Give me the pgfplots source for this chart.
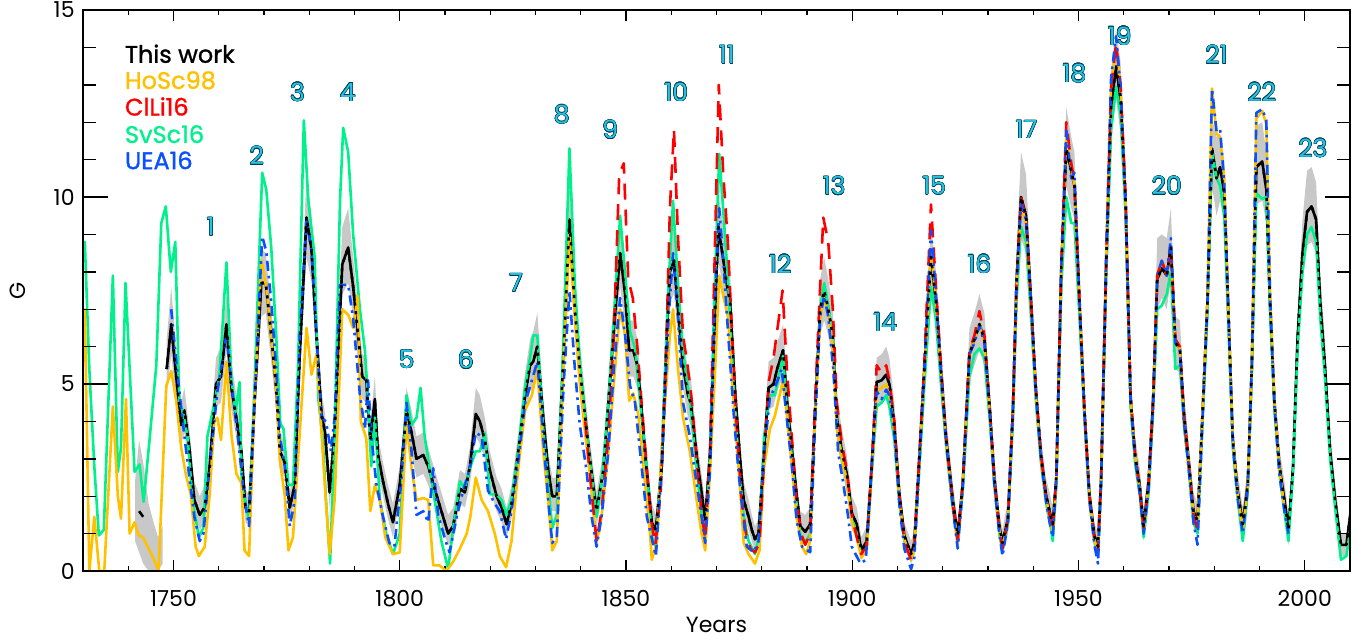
\documentclass[border=0pt]{standalone}
\usepackage{pgfplots}
\pgfplotsset{compat=1.18}
\usepackage{pgfplotstable}
\usepgfplotslibrary{fillbetween}
\usepackage{fontspec}
\setmainfont{Poppins}
\usepackage{contour}
\contourlength{0.22pt}

\definecolor{hosc}{RGB}{255,192,0}
\definecolor{clli}{RGB}{255,0,0}
\definecolor{svsc}{RGB}{0,240,140}
\definecolor{uea}{RGB}{10,80,255}
\definecolor{band}{RGB}{200,200,200}
\definecolor{cycfill}{RGB}{40,195,225}
\definecolor{cycline}{RGB}{0,60,85}

% This work: year, G, lower and upper bound
\pgfplotstableread{
x tw lo hi
1748.5 5.4 4.7 6.2
1749.5 6.6 5.8 7.6
1750.6 5.2 4.5 5.9
1751.7 3.9 3.4 4.5
1752.4 4.3 3.7 4.9
1753.5 3.3 2.8 3.8
1754.6 1.9 1.5 2.4
1755.8 1.5 1.1 2.0
1756.9 1.7 1.3 2.3
1758.0 2.8 2.3 3.4
1759.4 5.0 4.4 5.7
1760.5 5.2 4.5 6.0
1761.7 6.6 5.9 7.4
1762.8 4.9 4.3 5.6
1764.0 4.0 3.5 4.6
1765.0 3.2 2.7 3.7
1765.9 1.7 1.3 2.2
1766.7 1.6 1.2 2.0
1767.9 4.5 3.9 5.1
1769.4 7.7 6.8 8.6
1770.4 7.7 6.9 8.5
1771.6 6.3 5.6 7.0
1772.7 4.9 4.3 5.5
1773.5 3.2 2.7 3.7
1774.6 2.9 2.5 3.4
1775.7 1.7 1.3 2.1
1776.8 2.3 1.9 2.8
1777.9 5.8 5.1 6.5
1779.4 9.45 8.4 10.6
1780.5 8.6 7.7 9.5
1781.6 6.3 5.6 7.0
1782.7 4.2 3.7 4.8
1783.5 3.7 3.2 4.2
1784.5 2.1 1.7 2.6
1785.6 3.7 3.2 4.3
1787.3 8.2 7.4 9.2
1788.6 8.65 7.7 9.7
1789.7 7.6 6.8 8.4
1790.8 6.3 5.6 7.0
1791.7 5.2 4.6 5.8
1792.6 5.1 4.5 5.7
1793.5 3.5 3.0 4.0
1794.5 4.6 4.0 5.2
1795.2 3.1 2.6 3.6
1796.3 2.4 2.0 2.9
1797.4 1.8 1.4 2.3
1798.5 1.3 0.9 1.8
1800.0 2.3 1.9 2.8
1801.5 4.3 3.7 4.9
1802.6 3.7 3.1 4.3
1803.7 3.0 2.5 3.6
1805.2 3.1 2.6 3.7
1806.3 2.8 2.3 3.3
1807.7 2.2 1.8 2.7
1809.2 1.6 1.2 2.1
1810.7 1.0 0.7 1.5
1811.8 1.2 0.8 1.7
1813.3 2.2 1.8 2.7
1814.4 2.1 1.7 2.6
1815.5 2.8 2.3 3.3
1816.8 4.2 3.6 4.9
1817.7 4.0 3.4 4.7
1818.8 3.5 3.0 4.1
1819.9 2.7 2.2 3.2
1821.4 2.0 1.6 2.5
1822.5 1.7 1.3 2.2
1823.6 1.25 0.9 1.7
1824.7 1.8 1.4 2.3
1826.2 3.2 2.7 3.7
1827.7 4.7 4.1 5.3
1828.8 5.5 4.8 6.2
1829.5 5.6 4.9 6.4
1830.4 6.0 5.3 6.9
1831.7 4.1 3.5 4.7
1832.8 2.7 2.2 3.2
1833.7 2.0 1.6 2.5
1834.7 2.0 1.6 2.5
1836.2 5.8 5.1 6.6
1837.5 9.4 8.5 10.3
1838.7 7.0 6.3 7.8
1839.8 5.4 4.8 6.1
1841.0 4.1 3.6 4.7
1842.0 3.0 2.5 3.5
1843.5 1.6 1.2 2.1
1845.0 2.7 2.2 3.2
1846.1 4.5 3.9 5.1
1847.2 6.3 5.6 7.1
1848.7 8.5 7.6 9.5
1849.8 7.4 6.6 8.3
1850.7 5.9 5.2 6.7
1851.6 5.9 5.2 6.7
1852.5 5.5 4.9 6.2
1853.1 4.8 4.2 5.4
1854.4 2.9 2.4 3.4
1855.7 1.3 0.9 1.8
1856.6 1.1 0.7 1.5
1857.9 2.8 2.3 3.3
1859.0 6.3 5.6 7.0
1859.7 8.0 7.2 8.9
1860.6 8.3 7.4 9.2
1861.5 7.0 6.3 7.8
1862.6 5.5 4.9 6.2
1863.7 4.7 4.1 5.4
1864.3 4.5 3.9 5.2
1865.6 3.1 2.6 3.6
1866.7 2.1 1.7 2.6
1867.5 1.35 1.0 1.8
1868.6 3.2 2.7 3.7
1869.5 6.3 5.6 7.0
1870.4 9.2 8.3 10.1
1871.4 8.4 7.6 9.3
1872.3 7.65 6.9 8.5
1873.0 7.2 6.5 8.0
1874.1 4.8 4.2 5.4
1875.2 3.0 2.5 3.5
1876.0 1.9 1.5 2.4
1877.1 1.45 1.1 1.9
1877.8 1.1 0.8 1.5
1878.5 0.85 0.5 1.2
1879.3 1.0 0.7 1.4
1880.5 3.2 2.7 3.7
1881.5 4.9 4.3 5.6
1882.6 5.0 4.4 5.7
1883.4 5.4 4.8 6.1
1884.7 5.9 5.2 6.6
1885.6 4.5 3.9 5.1
1886.7 3.2 2.7 3.7
1887.6 2.15 1.7 2.6
1888.5 1.2 0.8 1.6
1889.6 1.05 0.7 1.5
1890.7 1.25 0.9 1.7
1891.8 4.3 3.7 4.9
1892.9 7.0 6.3 7.8
1893.8 7.5 6.7 8.4
1894.7 7.0 6.3 7.8
1895.7 6.3 5.6 7.0
1896.6 4.1 3.5 4.7
1897.7 3.2 2.7 3.8
1898.8 2.6 2.1 3.1
1899.9 1.55 1.1 2.0
1901.0 1.25 0.9 1.7
1902.0 0.55 0.3 0.9
1903.2 0.8 0.5 1.2
1904.3 2.8 2.3 3.3
1905.4 5.05 4.4 5.7
1906.5 5.1 4.5 5.8
1907.5 5.25 4.6 6.0
1908.2 5.0 4.4 5.7
1909.3 3.9 3.4 4.5
1910.4 2.05 1.6 2.5
1911.5 0.95 0.6 1.3
1913.0 0.45 0.2 0.8
1913.7 0.75 0.4 1.1
1914.8 3.0 2.5 3.5
1915.9 5.35 4.7 6.0
1917.4 8.4 7.5 9.3
1918.5 7.2 6.5 8.0
1919.6 5.35 4.7 6.0
1920.7 3.6 3.1 4.2
1922.2 1.9 1.5 2.4
1923.3 0.95 0.6 1.3
1924.4 2.3 1.9 2.8
1925.9 5.8 5.1 6.5
1927.0 6.2 5.5 6.9
1928.1 6.6 5.9 7.4
1929.2 6.2 5.5 6.9
1930.4 4.3 3.7 4.9
1931.4 2.5 2.0 3.0
1932.5 1.2 0.8 1.6
1933.2 0.75 0.4 1.1
1934.4 1.4 1.0 1.9
1935.5 4.3 3.7 4.9
1936.3 7.7 6.9 8.6
1937.3 10.0 8.9 11.2
1938.4 9.5 8.5 10.6
1939.5 7.2 6.5 8.0
1940.6 4.8 4.2 5.4
1941.7 3.1 2.6 3.6
1942.8 2.05 1.6 2.5
1943.6 1.6 1.2 2.1
1944.3 1.25 0.9 1.7
1945.1 2.5 2.0 3.0
1946.2 8.1 7.3 9.0
1947.3 11.3 10.3 12.4
1948.4 10.7 9.7 11.6
1949.1 10.3 9.4 11.2
1950.2 7.2 6.5 8.0
1951.3 4.3 3.7 4.9
1952.4 2.05 1.6 2.5
1953.5 0.95 0.6 1.3
1954.3 0.65 0.3 1.0
1955.0 2.5 2.0 3.0
1956.1 8.1 7.3 9.0
1957.2 12.4 11.5 13.4
1958.3 13.5 12.6 14.5
1959.3 12.6 11.7 13.6
1960.4 9.9 9.0 10.8
1961.5 4.6 4.0 5.2
1962.5 3.1 2.6 3.6
1963.5 2.3 1.9 2.8
1964.4 1.2 0.8 1.6
1965.5 2.4 2.0 2.9
1966.5 4.6 4.0 5.2
1967.4 7.8 7.0 8.9
1968.4 8.1 7.3 9.0
1969.5 7.9 7.0 8.9
1970.4 8.65 7.8 9.7
1971.4 6.1 5.4 6.8
1972.4 5.95 5.3 6.7
1973.3 4.2 3.6 4.8
1974.3 3.0 2.5 3.5
1975.4 1.6 1.2 2.1
1976.3 1.35 1.0 1.8
1977.4 4.2 3.6 4.8
1978.5 7.2 6.5 8.0
1979.5 11.3 10.3 12.1
1980.5 10.5 9.5 11.6
1981.3 10.8 9.9 11.7
1982.2 10.1 9.3 11.0
1983.1 7.0 6.3 7.8
1984.1 3.5 3.0 4.0
1985.1 2.2 1.8 2.7
1986.3 1.25 0.9 1.7
1987.4 2.3 1.9 2.8
1988.3 5.5 4.9 6.2
1989.3 10.8 9.8 11.9
1990.6 10.95 9.9 12.0
1991.5 10.2 9.3 11.2
1992.3 7.2 6.5 8.0
1993.3 4.5 3.9 5.1
1994.4 2.8 2.3 3.3
1995.5 1.9 1.5 2.4
1996.4 1.1 0.7 1.5
1997.4 2.75 2.3 3.3
1998.4 6.2 5.5 6.9
1999.5 8.5 7.7 9.4
2000.5 9.6 8.7 10.7
2001.5 9.75 8.8 10.8
2002.5 9.4 8.5 10.4
2003.4 7.2 6.5 8.0
2004.5 5.4 4.8 6.1
2005.6 3.2 2.7 3.7
2006.7 1.9 1.5 2.4
2008.0 0.7 0.4 1.0
2009.2 0.7 0.4 1.0
2010.3 1.7 1.3 2.2
}\tw

\pgfplotstableread{
x tw lo hi
1741.5 nan 0.8 2.4
1742.4 1.6 0.5 3.5
1743.3 1.45 0.2 2.9
1744.5 nan 0.0 1.8
1745.6 nan 0.0 1.3
1746.6 nan 0.0 0.9
1747.6 nan 0.2 1.2
}\twearly

\pgfplotstableread{
x y
1729.6 4.6
1730.4 7.0
1731.4 0.0
1732.5 1.45
1733.6 0.0
1734.7 0.0
1736.6 4.4
1737.7 2.0
1738.4 1.4
1739.5 4.6
1740.3 1.0
1741.4 1.3
1742.3 0.95
1743.3 0.9
1744.7 0.55
1745.7 0.3
1746.7 0.0
1748.4 4.95
1749.5 5.35
1750.6 4.55
1751.7 3.3
1752.7 2.6
1753.8 2.05
1754.9 0.65
1755.6 0.4
1756.9 0.65
1758.0 2.05
1759.0 4.0
1759.7 4.1
1760.5 3.5
1761.7 5.6
1762.8 3.65
1763.9 2.6
1765.0 2.35
1765.7 0.55
1766.7 0.4
1767.9 4.55
1769.4 8.3
1770.5 7.6
1771.6 6.3
1772.7 4.9
1773.5 2.95
1774.6 2.0
1775.4 0.55
1776.4 0.9
1777.9 3.7
1779.4 6.5
1780.5 5.25
1781.6 5.8
1782.7 3.7
1783.6 2.0
1784.5 0.45
1785.6 1.9
1787.3 7.0
1788.6 6.85
1789.7 6.5
1790.7 7.35
1791.4 4.0
1792.6 3.55
1793.5 1.6
1794.5 2.3
1795.6 1.9
1796.8 0.9
1798.5 0.45
1800.0 0.5
1801.5 3.95
1802.6 2.75
1803.7 1.9
1805.2 1.95
1806.3 1.9
1807.4 0.15
1808.8 0.15
1810.3 0.0
1811.8 0.25
1813.3 0.6
1814.8 1.0
1815.6 1.45
1816.8 2.5
1818.1 1.9
1819.5 1.6
1821.0 1.0
1822.1 0.4
1823.5 0.1
1824.7 0.8
1826.2 2.75
1827.7 4.3
1829.2 4.7
1830.4 5.4
1831.7 3.2
1832.8 1.9
1833.7 0.55
1834.7 0.8
1836.2 5.4
1837.5 9.0
1838.7 6.75
1839.8 5.0
1841.0 3.65
1842.0 2.6
1843.5 0.75
1844.6 1.45
1846.1 3.2
1847.3 5.0
1848.7 7.0
1849.8 6.3
1850.7 4.55
1851.6 4.75
1852.7 4.2
1854.2 2.35
1855.3 1.0
1855.7 0.3
1856.8 0.75
1858.1 3.65
1859.7 6.3
1860.4 7.0
1861.5 5.4
1862.6 4.1
1864.1 3.2
1865.6 1.9
1866.7 1.0
1867.5 0.55
1868.6 2.75
1869.7 5.4
1870.6 7.9
1871.5 7.35
1872.6 6.75
1873.8 4.5
1874.9 2.75
1876.0 0.75
1877.1 0.45
1878.5 0.2
1879.5 0.55
1880.5 2.75
1881.8 3.8
1882.9 4.15
1884.7 5.1
1885.6 4.1
1886.7 2.75
1887.7 1.45
1888.9 0.65
1889.8 0.45
1890.7 0.8
1891.8 4.2
1892.9 6.8
1893.8 7.3
1894.7 6.9
1895.7 6.0
1896.6 3.8
1897.7 3.0
1898.8 2.4
1899.9 1.3
1901.0 0.9
1902.0 0.35
1903.2 0.6
1904.3 2.7
1905.4 4.8
1906.5 4.9
1907.5 5.0
1908.2 4.8
1909.3 3.8
1910.4 1.9
1911.5 0.85
1913.0 0.3
1913.7 0.55
1914.8 2.9
1915.9 5.3
1917.4 8.6
1918.5 7.3
1919.6 5.3
1920.7 3.5
1922.2 1.8
1923.3 0.7
1924.4 2.3
1925.9 5.8
1927.0 6.2
1928.1 6.6
1929.2 6.1
1930.4 4.2
1931.4 2.4
1932.5 1.1
1933.2 0.6
1934.4 1.35
1935.5 4.3
1936.3 7.6
1937.3 9.8
1938.4 9.3
1939.5 7.1
1940.6 4.7
1941.7 3.0
1942.8 1.95
1943.6 1.5
1944.3 1.05
1945.1 2.4
1946.2 8.1
1947.3 11.6
1948.4 10.8
1949.1 10.3
1950.2 7.2
1951.3 4.3
1952.4 2.0
1953.5 0.85
1954.3 0.5
1955.0 2.45
1956.1 8.3
1957.2 13.0
1958.3 14.0
1959.3 12.9
1960.4 9.9
1961.5 4.6
1962.5 3.1
1963.5 2.2
1964.4 1.1
1965.5 2.3
1966.5 4.6
1967.4 7.9
1968.4 8.3
1969.5 7.9
1970.4 8.65
1971.4 6.1
1972.4 5.95
1973.3 4.1
1974.3 2.95
1975.4 1.5
1976.3 1.2
1977.4 4.2
1978.5 7.3
1979.5 12.9
1980.5 11.7
1981.3 11.6
1982.2 10.5
1983.1 7.0
1984.1 3.5
1985.1 2.1
1986.3 1.1
1987.4 2.2
1988.3 5.5
1989.3 12.1
1990.6 12.3
1991.5 11.95
1992.3 7.6
1993.3 4.5
1994.4 2.7
1995.5 1.7
}\hosc

\pgfplotstableread{
x y
1841.0 4.0
1842.0 2.6
1843.5 0.8
1844.6 1.6
1846.1 3.6
1847.3 6.3
1848.5 10.6
1849.5 10.9
1850.5 7.8
1851.5 7.3
1852.5 6.0
1853.5 4.4
1854.5 2.9
1855.5 1.4
1856.5 0.7
1857.7 2.2
1858.8 5.5
1859.7 9.7
1860.6 11.8
1861.5 8.9
1862.6 6.3
1863.6 5.5
1864.5 4.6
1865.6 3.0
1866.7 1.6
1867.5 0.85
1868.6 3.3
1869.5 7.9
1870.5 13.0
1871.5 10.6
1872.5 8.8
1873.5 6.2
1874.5 3.8
1875.5 2.0
1876.5 1.0
1877.5 0.6
1878.5 0.5
1879.5 0.75
1880.5 3.0
1881.6 5.1
1882.6 5.7
1883.6 6.6
1884.6 7.5
1885.6 5.3
1886.7 3.5
1887.7 1.9
1888.7 1.0
1889.6 0.7
1890.7 1.0
1891.8 4.6
1892.9 7.6
1893.6 9.45
1894.7 8.8
1895.7 7.0
1896.6 4.5
1897.7 3.4
1898.8 2.7
1899.9 1.5
1901.0 0.9
1902.0 0.45
1903.2 0.7
1904.3 2.8
1905.4 5.5
1906.5 5.3
1907.5 5.5
1908.2 5.1
1909.3 4.0
1910.4 2.0
1911.5 0.8
1913.0 0.3
1913.7 0.55
1914.8 3.0
1915.9 5.5
1917.4 9.8
1918.5 7.6
1919.6 5.5
1920.7 3.6
1922.2 1.8
1923.3 0.8
1924.4 2.3
1925.9 5.9
1927.0 6.3
1928.1 6.95
1929.2 6.3
1930.4 4.3
1931.4 2.4
1932.5 1.1
1933.2 0.6
1934.4 1.35
1935.5 4.3
1936.3 7.7
1937.3 10.0
1938.4 9.4
1939.5 7.2
1940.6 4.8
1941.7 3.1
1942.8 2.0
1943.6 1.5
1944.3 1.1
1945.1 2.5
1946.2 8.2
1947.3 12.0
1948.4 10.9
1949.1 10.4
1950.2 7.3
1951.3 4.3
1952.4 2.0
1953.5 0.85
1954.3 0.5
1955.0 2.5
1956.1 8.2
1957.2 12.9
1958.3 14.1
1959.3 13.0
1960.4 10.0
1961.5 4.7
1962.5 3.1
1963.5 2.2
1964.4 1.1
1965.5 2.3
1966.5 4.6
1967.4 7.9
1968.4 8.3
1969.5 7.9
1970.4 8.7
1971.4 6.2
1972.4 6.0
1973.3 4.1
1974.3 2.9
1975.4 1.5
1976.3 1.1
}\clli

\pgfplotstableread{
x y
1729.6 8.0
1730.4 8.8
1731.4 5.4
1732.5 2.8
1733.5 0.95
1734.6 1.1
1736.6 7.9
1737.7 2.65
1738.4 3.3
1739.4 7.7
1741.4 2.65
1742.5 2.85
1743.4 1.85
1744.7 3.5
1746.2 5.5
1747.3 9.3
1748.3 9.75
1749.4 8.0
1750.4 8.8
1751.3 4.5
1752.0 4.3
1753.1 3.6
1754.2 1.9
1755.6 0.9
1756.6 1.15
1757.5 3.6
1758.6 4.25
1760.1 5.15
1761.7 8.25
1762.8 5.15
1763.7 4.25
1764.6 5.05
1765.1 2.3
1766.7 1.35
1767.9 4.95
1769.6 10.65
1770.5 10.2
1771.6 8.65
1772.7 6.3
1773.6 3.95
1774.3 3.8
1775.4 2.3
1776.4 2.3
1777.5 5.4
1778.8 12.05
1779.8 9.9
1781.2 8.4
1782.0 4.6
1783.0 3.5
1783.7 1.9
1784.6 0.2
1785.6 3.6
1786.8 9.9
1787.5 11.85
1788.6 11.2
1789.7 9.0
1791.2 7.0
1792.3 5.9
1793.0 4.55
1793.7 2.8
1794.5 4.1
1795.6 1.9
1797.0 1.0
1798.5 0.45
1800.0 1.0
1801.5 4.7
1802.6 3.9
1803.7 4.1
1804.6 4.9
1805.5 3.6
1806.6 2.75
1807.7 1.9
1809.2 0.8
1810.7 0.05
1811.8 1.15
1813.3 2.4
1814.4 2.2
1815.5 2.75
1816.8 3.2
1817.7 3.2
1818.8 3.7
1819.9 2.05
1821.4 2.05
1822.5 1.9
1823.6 1.5
1824.7 1.9
1826.2 3.2
1827.7 4.95
1828.8 5.7
1829.5 6.3
1830.4 6.3
1831.7 3.8
1832.8 2.35
1833.7 1.15
1834.7 1.5
1836.2 6.3
1837.5 11.3
1838.7 7.65
1839.8 5.6
1841.0 4.1
1842.0 2.95
1843.5 1.45
1844.6 2.35
1846.1 4.5
1847.3 6.75
1848.7 9.5
1849.8 7.95
1850.9 6.4
1852.0 5.95
1853.1 4.55
1854.6 2.75
1855.7 0.9
1856.6 0.65
1857.9 3.2
1859.4 7.65
1860.4 9.9
1861.5 7.65
1862.6 5.85
1864.1 4.55
1865.6 2.75
1866.7 1.45
1867.5 0.9
1868.6 3.2
1869.5 7.2
1870.6 11.15
1871.6 9.45
1872.6 7.65
1873.8 4.95
1874.9 2.9
1876.0 1.45
1877.1 0.8
1878.5 0.45
1879.5 1.0
1880.5 3.6
1881.8 4.7
1882.9 4.7
1884.7 5.75
1885.6 4.3
1886.7 3.0
1887.6 1.9
1888.5 1.0
1889.6 0.75
1890.7 1.0
1891.8 4.2
1892.9 7.0
1893.8 7.7
1894.7 7.1
1895.7 6.2
1896.6 4.0
1897.7 3.0
1898.8 2.4
1899.9 1.4
1901.0 1.0
1902.0 0.4
1903.2 0.6
1904.3 2.6
1905.4 4.4
1906.5 4.5
1907.5 4.7
1908.2 4.4
1909.3 3.5
1910.4 1.8
1911.5 0.8
1913.0 0.3
1913.7 0.55
1914.8 2.7
1915.9 4.9
1917.4 7.6
1918.5 6.7
1919.6 5.0
1920.7 3.4
1922.2 1.7
1923.3 0.75
1924.4 2.1
1925.9 5.2
1927.0 5.8
1928.1 5.95
1929.2 5.7
1930.4 4.0
1931.4 2.3
1932.5 1.0
1933.2 0.55
1934.4 1.25
1935.5 4.0
1936.3 7.2
1937.3 9.2
1938.4 8.8
1939.5 6.8
1940.6 4.5
1941.7 2.9
1942.8 1.85
1943.6 1.4
1944.3 0.8
1945.1 2.3
1946.2 7.6
1947.3 10.0
1948.4 9.3
1949.1 9.3
1950.2 6.8
1951.3 4.1
1952.4 1.9
1953.5 0.8
1954.3 0.45
1955.0 2.3
1956.1 7.8
1957.2 11.8
1958.3 12.95
1959.3 12.2
1960.4 9.5
1961.5 4.4
1962.5 2.9
1963.5 2.1
1964.4 0.9
1965.5 2.1
1966.5 4.3
1967.4 7.0
1968.4 7.1
1969.5 7.4
1970.4 8.0
1971.4 5.4
1972.4 5.5
1973.3 3.9
1974.3 2.8
1975.4 1.3
1976.3 1.0
1977.4 4.0
1978.5 6.9
1979.5 11.2
1980.5 10.5
1981.3 10.3
1982.2 9.5
1983.1 6.6
1984.1 3.3
1985.1 2.0
1986.3 0.8
1987.4 2.1
1988.3 5.2
1989.3 10.1
1990.6 9.95
1991.5 10.0
1992.3 7.0
1993.3 4.3
1994.4 2.6
1995.5 1.6
1996.4 0.8
1997.4 2.6
1998.4 5.9
1999.5 8.0
2000.5 9.0
2001.5 9.2
2002.5 8.8
2003.4 6.8
2004.5 5.1
2005.6 3.0
2006.7 1.7
2008.0 0.3
2009.2 0.4
2010.3 1.3
}\svsc

\pgfplotstableread{
x y
1749.5 7.0
1750.6 5.6
1751.7 4.35
1753.0 3.0
1754.6 1.45
1755.8 0.8
1756.6 1.0
1758.0 2.8
1759.7 4.8
1761.7 6.3
1762.8 5.0
1764.2 3.6
1765.7 1.9
1766.7 1.2
1767.9 4.5
1769.6 8.95
1770.5 8.55
1771.6 7.2
1772.7 5.4
1773.5 3.6
1774.6 2.8
1775.7 1.2
1776.8 1.9
1777.9 6.3
1779.4 9.4
1780.5 8.55
1781.6 6.3
1782.7 4.1
1783.7 4.0
1784.8 3.2
1785.6 4.1
1786.8 7.65
1788.6 7.65
1789.7 6.75
1791.2 4.7
1792.3 3.8
1793.0 5.1
1793.7 3.65
1794.8 2.35
1796.3 1.45
1797.7 0.75
1798.8 0.65
1800.3 2.35
1801.5 4.5
1802.6 3.2
1803.7 1.5
1805.2 1.6
1806.3 1.3
1807.4 2.75
1808.5 1.5
1810.0 0.85
1811.0 0.5
1812.6 1.45
1814.0 2.15
1815.5 2.75
1816.8 3.7
1818.1 3.6
1819.5 2.15
1821.0 1.8
1822.1 1.6
1823.5 0.85
1824.7 1.6
1826.2 2.95
1827.7 4.5
1829.2 5.1
1830.4 5.6
1831.7 3.6
1832.8 1.9
1833.7 0.75
1834.7 0.9
1836.2 4.95
1837.5 7.5
1838.7 5.4
1839.8 3.9
1841.2 2.75
1842.4 1.45
1843.5 0.65
1844.6 1.45
1846.1 3.2
1847.3 5.4
1848.7 7.3
1849.8 6.3
1850.9 4.95
1852.0 4.5
1853.1 3.2
1854.6 1.45
1856.6 0.4
1857.9 2.75
1859.4 6.75
1860.4 8.5
1861.5 6.75
1862.6 4.5
1864.1 3.6
1865.6 2.35
1866.7 1.45
1867.5 0.75
1868.6 2.75
1869.5 6.75
1870.6 9.7
1871.5 8.3
1872.6 6.3
1873.8 4.2
1874.9 2.6
1876.0 1.35
1876.7 0.65
1878.2 0.5
1879.3 0.8
1880.5 3.1
1881.8 4.65
1882.9 4.9
1884.4 5.4
1885.6 4.0
1886.7 2.75
1887.7 1.35
1888.9 0.65
1890.7 0.5
1891.8 4.0
1892.9 6.8
1893.8 7.35
1894.7 6.8
1895.8 5.4
1896.9 3.15
1898.0 2.35
1899.1 1.45
1899.9 0.65
1901.8 0.2
1903.0 0.3
1904.3 2.85
1905.4 4.8
1906.5 4.6
1907.5 4.85
1908.2 4.7
1909.3 3.7
1910.4 1.8
1911.5 0.6
1913.0 0.05
1913.7 0.35
1914.8 2.8
1915.9 5.3
1917.4 9.1
1918.5 7.4
1919.6 5.3
1920.7 3.5
1922.2 1.7
1923.3 0.6
1924.4 2.2
1925.9 5.8
1927.0 6.1
1928.1 6.55
1929.2 6.1
1930.4 4.2
1931.4 2.3
1932.5 1.0
1933.2 0.4
1934.4 1.3
1935.5 4.3
1936.3 7.7
1937.3 9.8
1938.4 9.4
1939.5 7.2
1940.6 4.7
1941.7 3.0
1942.8 1.9
1943.6 1.3
1944.3 0.9
1945.1 2.4
1946.2 8.2
1947.3 11.8
1948.4 10.5
1949.1 10.65
1950.2 7.3
1951.3 4.3
1952.4 1.9
1953.5 0.7
1954.3 0.2
1955.0 2.4
1956.1 8.4
1957.2 13.2
1958.3 14.3
1959.3 12.9
1960.4 9.9
1961.5 4.6
1962.5 3.0
1963.5 2.1
1964.4 1.0
1965.5 2.2
1966.5 4.5
1967.4 7.9
1968.4 8.3
1969.5 7.9
1970.4 8.9
1971.4 6.1
1972.4 5.9
1973.3 4.0
1974.3 2.8
1975.4 1.3
1976.3 0.7
1977.4 4.0
1978.5 7.2
1979.5 12.9
1980.5 11.75
1981.3 11.8
1982.2 10.4
1983.1 7.0
1984.1 3.4
1985.1 2.0
1986.3 1.0
1987.4 2.2
1988.3 5.5
1989.3 12.25
1990.6 12.35
1991.5 12.05
1992.3 7.5
1993.3 4.4
1994.4 2.6
1995.5 1.6
1996.4 1.0
}\uea

\begin{document}
\begin{tikzpicture}
\pgfplotsset{
  base/.style={
    width=633.5pt, height=280.5pt, scale only axis,
    xmin=1730, xmax=2010, ymin=0, ymax=15,
    axis line style={line width=0.7pt},
    tick style={black, line width=0.7pt},
    tick label style={font=\fontsize{11}{13}\selectfont},
    /pgf/number format/assume math mode=true,
    /pgf/number format/1000 sep={},
  },
  linebase/.style={line width=1.3pt, line join=round},
}
\begin{axis}[base,
  xtick={1750,1800,...,2000},
  minor xtick={1730,1740,...,2010},
  ytick=\empty,
  major tick length=5.5pt, minor tick length=2.5pt,
  xticklabel style={inner sep=0pt, yshift=-9.5pt},
  xlabel={Years},
  xlabel style={at={(axis description cs:0.5,0)}, anchor=base, yshift=-30.5pt,
    inner sep=0pt, font=\fontsize{11}{13}\selectfont},
]
\coordinate (sw) at (rel axis cs:0,0);
\coordinate (ne) at (rel axis cs:1,1);

% uncertainty band of this work
\addplot[draw=none, name path=hi, forget plot] table[x=x, y=hi] {\tw};
\addplot[draw=none, name path=lo, forget plot] table[x=x, y=lo] {\tw};
\addplot[band, draw=none, forget plot] fill between[of=hi and lo];
\addplot[draw=none, name path=hie, forget plot] table[x=x, y=hi] {\twearly};
\addplot[draw=none, name path=loe, forget plot] table[x=x, y=lo] {\twearly};
\addplot[band, draw=none, forget plot] fill between[of=hie and loe];

% this work, solid underneath
\addplot[linebase, black] table[x=x, y=tw] {\tw};
\addplot[linebase, black, unbounded coords=jump] table[x=x, y=tw] {\twearly};

% other reconstructions
\addplot[linebase, svsc] table[x=x, y=y] {\svsc};
\addplot[linebase, hosc] table[x=x, y=y] {\hosc};
\addplot[linebase, clli, dash pattern=on 8pt off 5pt] table[x=x, y=y] {\clli};
\addplot[linebase, uea, dash pattern=on 5pt off 2.5pt on 1.3pt off 2.5pt] table[x=x, y=y] {\uea};

% this work, dashed on top
\addplot[linebase, black, dash pattern=on 1.6pt off 2.8pt] table[x=x, y=tw] {\tw};

% legend
\begin{scope}[every node/.style={anchor=west, inner sep=0pt,
    font=\fontsize{12}{14}\selectfont\addfontfeature{FakeBold=1.2}}]
\node[text=black] at (axis cs:1739.2,13.83) {This work};
\node[text=hosc]  at (axis cs:1739.2,13.12) {HoSc98};
\node[text=clli]  at (axis cs:1739.2,12.42) {ClLi16};
\node[text=svsc]  at (axis cs:1739.2,11.68) {SvSc16};
\node[text=uea]   at (axis cs:1739.2,10.98) {UEA16};
\end{scope}

% cycle numbers
\begin{scope}[every node/.style={inner sep=0pt, text=cycfill, font=\fontsize{12.5}{14}\selectfont}]
\node at (axis cs:1758.2,9.2)  {\contour{cycline}{1}};
\node at (axis cs:1768.4,11.1) {\contour{cycline}{2}};
\node at (axis cs:1777.4,12.8) {\contour{cycline}{3}};
\node at (axis cs:1788.5,12.8) {\contour{cycline}{4}};
\node at (axis cs:1801.5,5.65) {\contour{cycline}{5}};
\node at (axis cs:1814.6,5.65) {\contour{cycline}{6}};
\node at (axis cs:1825.7,7.7)  {\contour{cycline}{7}};
\node at (axis cs:1835.8,12.2) {\contour{cycline}{8}};
\node at (axis cs:1846.5,11.8) {\contour{cycline}{9}};
\node at (axis cs:1861.1,12.8) {\contour{cycline}{10}};
\node at (axis cs:1872.3,13.8) {\contour{cycline}{11}};
\node at (axis cs:1884.1,8.2)  {\contour{cycline}{12}};
\node at (axis cs:1896.0,10.3) {\contour{cycline}{13}};
\node at (axis cs:1907.3,6.65) {\contour{cycline}{14}};
\node at (axis cs:1918.1,10.3) {\contour{cycline}{15}};
\node at (axis cs:1928.1,8.2)  {\contour{cycline}{16}};
\node at (axis cs:1938.5,11.8) {\contour{cycline}{17}};
\node at (axis cs:1949.1,13.3) {\contour{cycline}{18}};
\node at (axis cs:1959.1,14.3) {\contour{cycline}{19}};
\node at (axis cs:1969.5,10.3) {\contour{cycline}{20}};
\node at (axis cs:1980.5,13.8) {\contour{cycline}{21}};
\node at (axis cs:1990.5,12.8) {\contour{cycline}{22}};
\node at (axis cs:2001.8,11.3) {\contour{cycline}{23}};
\end{scope}
\end{axis}

% y axis with its longer ticks
\begin{axis}[base,
  xtick=\empty,
  ytick={0,5,10,15},
  minor ytick={1,2,3,4,6,7,8,9,11,12,13,14},
  major tick length=12.5pt, minor tick length=6.5pt,
  yticklabel style={inner sep=0pt, xshift=-4pt},
  ylabel={G},
  ylabel style={at={(axis description cs:0,0.5)}, anchor=center, yshift=32.5pt,
    inner sep=0pt, font=\fontsize{11}{13}\selectfont},
]
\end{axis}

\pgfresetboundingbox
\useasboundingbox ([shift={(-41.5pt,-34pt)}]sw) rectangle ([shift={(4pt,5pt)}]ne);
\end{tikzpicture}
\end{document}
